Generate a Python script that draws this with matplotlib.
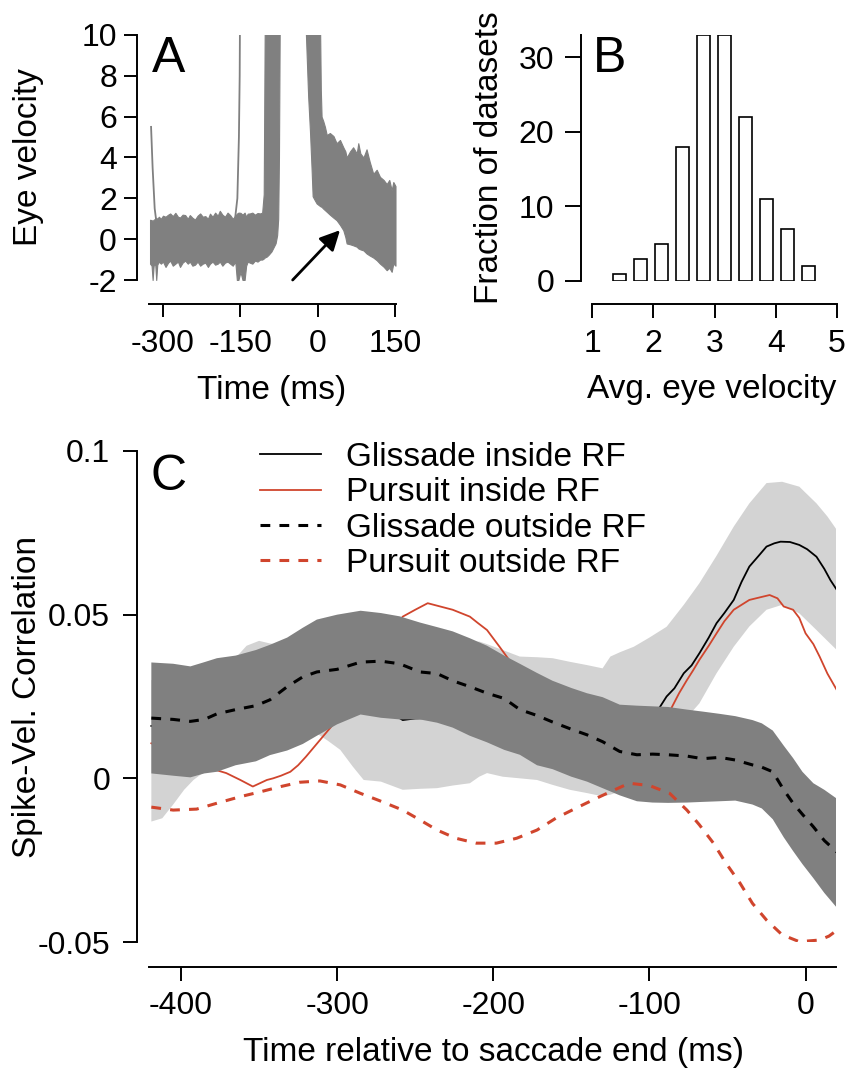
import matplotlib
matplotlib.use('Agg')
import matplotlib.pyplot as plt

plt.rcParams['font.family'] = ['Liberation Sans', 'DejaVu Sans']
plt.rcParams['axes.unicode_minus'] = False

# ---------------- Panel A data (envelope of eye-velocity traces) ----------------
t_pre = [-325, -322, -320, -318, -315, -313, -311, -308, -304, -300,
         -295, -290, -286, -281, -276, -271, -267, -262, -257, -252,
         -248, -243, -238, -233, -228, -223, -218, -213, -209, -204,
         -199, -194, -190, -185, -180, -175, -170, -165, -160, -157,
         -154, -150, -146, -142, -139, -136, -132, -127, -122, -117,
         -112, -108, -105, -103, -99, -95, -90, -86, -82, -79,
         -77, -75.5, -74]
hi_pre = [0.95, 0.93, 0.90, 0.95, 1.00, 1.05, 0.99, 1.10, 1.00, 1.15,
          1.10, 1.20, 1.26, 1.13, 1.29, 1.10, 1.06, 1.20, 1.18, 1.00,
          1.18, 1.05, 0.96, 1.15, 1.26, 1.10, 1.13, 1.00, 1.25, 1.10,
          1.30, 1.15, 1.39, 1.20, 1.10, 1.30, 1.18, 1.00, 1.15, 1.25,
          1.30, 1.29, 1.20, 1.30, 1.10, 1.25, 1.26, 1.30, 1.20, 1.28,
          1.26, 1.30, 2.20, 10.5, 10.5, 10.5, 10.5, 10.5, 10.5, 10.5,
          10.5, 10.5, 10.5]
lo_pre = [-1.20, -1.30, -2.00, -1.30, -1.20, -2.00, -1.25, -1.10, -1.20, -1.10,
          -1.36, -1.15, -1.05, -1.30, -1.20, -1.10, -1.36, -1.15, -1.05, -1.20,
          -1.10, -1.30, -1.25, -1.10, -1.30, -1.20, -1.15, -1.36, -1.20, -1.10,
          -1.25, -1.20, -1.10, -1.30, -1.15, -1.10, -1.20, -1.30, -1.10, -2.00,
          -2.00, -1.60, -2.00, -2.00, -1.30, -1.10, -1.15, -1.20, -1.05, -1.10,
          -1.00, -1.00, -0.95, -0.90, -0.85, -0.75, -0.60, -0.40, -0.20, 0.20,
          1.00, 4.00, 10.5]

t_post = [-24, -19, -15.5, -12.3, -10.3, -6, -2.6, 4, 5.5, 7,
          10, 13.5, 17, 23, 30, 36, 42.6, 49, 53, 55.5,
          62, 68, 75, 78, 82, 88, 94, 100, 107, 113.6,
          120, 127, 133, 138, 142.6, 145.8, 150]
lo_post = [10.5, 7.0, 5.3, 3.4, 2.1, 1.9, 1.75, 1.62, 1.6, 1.58,
           1.5, 1.42, 1.34, 1.2, 1.05, 0.93, 0.7, 0.44, 0.1, -0.21,
           -0.25, -0.3, -0.37, -0.45, -0.5, -0.55, -0.7, -0.8, -0.9, -1.03,
           -1.2, -1.35, -1.52, -1.4, -1.6, -1.19, -1.3]
hi_post = [10.5, 10.5, 10.5, 10.5, 10.5, 10.5, 10.5, 10.5, 7.3, 6.0,
           5.8, 5.5, 5.1, 5.2, 5.05, 4.7, 4.86, 4.5, 4.3, 4.0,
           4.3, 4.5, 4.2, 4.7, 4.2, 4.0, 4.4, 3.8, 3.2, 3.4,
           3.05, 2.9, 2.7, 2.9, 2.4, 2.8, 2.6]

t_trace1 = [-323, -320, -316, -313]
v_trace1 = [5.5, 3.5, 1.5, 0.9]
t_trace2 = [-160, -156, -153, -151.5, -151]
v_trace2 = [1.1, 2.0, 5.0, 8.0, 10.5]

arrow_tail = (-49, -2.0)
arrow_head = (42.6, 0.44)

# ---------------- Panel B data ----------------
bin_centers = [1.444, 1.787, 2.130, 2.473, 2.816, 3.159, 3.502, 3.845, 4.188, 4.532]
bin_counts = [1, 3, 5, 18, 33, 33, 22, 11, 7, 2]
bin_width = 0.215

# ---------------- Panel C data ----------------
t_gout = [-419, -405, -394, -385, -377, -365, -352, -343, -332, -322,
          -313, -300, -285, -272, -260, -247, -236, -226, -215, -204,
          -193, -183, -172, -162, -150, -140, -130, -119, -108, -98,
          -88, -76, -66, -55, -45, -34, -28, -21, -14, -8,
          -2, 5, 12, 20]
gout_hi = [0.0354, 0.0350, 0.0342, 0.0355, 0.0367, 0.0375, 0.0392, 0.0408, 0.0430, 0.0460,
           0.0485, 0.0500, 0.0512, 0.0505, 0.0495, 0.0476, 0.0462, 0.0449, 0.0428, 0.0405,
           0.0375, 0.0350, 0.0322, 0.0298, 0.0276, 0.0260, 0.0248, 0.0225, 0.0222, 0.0220,
           0.0218, 0.0210, 0.0204, 0.0197, 0.0190, 0.0178, 0.0168, 0.0146, 0.0100, 0.0062,
           0.0020, -0.0015, -0.0035, -0.0062]
gout_lo = [0.0015, 0.0008, 0.0003, 0.0015, 0.0020, 0.0040, 0.0052, 0.0071, 0.0085, 0.0105,
           0.0130, 0.0165, 0.0195, 0.0185, 0.0180, 0.0180, 0.0170, 0.0155, 0.0130, 0.0110,
           0.0087, 0.0072, 0.0040, 0.0028, 0.0005, -0.0010, -0.0030, -0.0052, -0.0070, -0.0074,
           -0.0075, -0.0074, -0.0072, -0.0070, -0.0068, -0.0080, -0.0092, -0.0125, -0.0180, -0.0222,
           -0.0262, -0.0305, -0.0350, -0.0395]
gout_mean = [0.0184, 0.0180, 0.0174, 0.0180, 0.0197, 0.0210, 0.0222, 0.0240, 0.0280, 0.0310,
             0.0325, 0.0333, 0.0355, 0.0358, 0.0350, 0.0325, 0.0320, 0.0298, 0.0280, 0.0260,
             0.0244, 0.0210, 0.0192, 0.0172, 0.0150, 0.0133, 0.0112, 0.0082, 0.0072, 0.0074,
             0.0072, 0.0068, 0.0060, 0.0064, 0.0056, 0.0041, 0.0034, 0.0020, -0.0035, -0.0076,
             -0.0110, -0.0148, -0.0190, -0.0225]

t_gin_band = [-419, -412, -405, -398, -392, -385, -377, -365, -358, -350,
              -343, -332, -322, -315, -306, -298, -290, -283, -272, -258,
              -247, -236, -226, -215, -209, -204, -194, -183, -172, -162,
              -151, -140, -130, -125, -119, -110, -100, -89, -78, -68,
              -57, -46, -36, -25, -15, -4, 7, 14, 20]
gin_lo = [-0.0132, -0.0122, -0.0080, -0.0035, -0.0005, 0.0020, 0.0040, 0.0060, 0.0070, 0.0085,
          0.0095, 0.0110, 0.0125, 0.0143, 0.0115, 0.0087, 0.0036, -0.0005, -0.0010, -0.0035,
          -0.0032, -0.0030, -0.0022, -0.0015, 0.0005, 0.0016, 0.0005, 0.0000, -0.0005, -0.0020,
          -0.0035, -0.0045, -0.0055, -0.0050, -0.0040, -0.0005, 0.0050, 0.0110, 0.0175, 0.0229,
          0.0321, 0.0402, 0.0464, 0.0515, 0.0530, 0.0504, 0.0453, 0.0420, 0.0392]
gin_hi = [0.0300, 0.0305, 0.0310, 0.0318, 0.0325, 0.0340, 0.0350, 0.0368, 0.0405, 0.0420,
          0.0412, 0.0405, 0.0410, 0.0415, 0.0425, 0.0435, 0.0440, 0.0445, 0.0445, 0.0440,
          0.0430, 0.0425, 0.0420, 0.0415, 0.0418, 0.0410, 0.0392, 0.0372, 0.0370, 0.0367,
          0.0356, 0.0346, 0.0336, 0.0372, 0.0385, 0.0402, 0.0430, 0.0463, 0.0530, 0.0596,
          0.0680, 0.0769, 0.0840, 0.0902, 0.0906, 0.0891, 0.0840, 0.0800, 0.0759]

t_gin = [-419, -400, -380, -360, -340, -320, -300, -285, -279, -272,
         -268, -262, -258, -250, -243, -230, -215, -200, -180, -160,
         -140, -120, -105, -95, -89, -84, -78, -73, -68, -62,
         -57, -52, -46, -41, -36, -30, -25, -20, -16, -10,
         -4, 1, 7, 12, 16, 20]
gin_mean = [0.016, 0.016, 0.018, 0.020, 0.022, 0.024, 0.022, 0.0205, 0.0199, 0.0202,
            0.0204, 0.0190, 0.0178, 0.0183, 0.0184, 0.019, 0.018, 0.017, 0.016, 0.015,
            0.0145, 0.015, 0.017, 0.0205, 0.0250, 0.0275, 0.0321, 0.0345, 0.0382, 0.0430,
            0.0474, 0.0505, 0.0545, 0.0600, 0.0647, 0.0680, 0.0708, 0.0718, 0.0723, 0.0722,
            0.0713, 0.0700, 0.0677, 0.0640, 0.0605, 0.0576]

t_pin = [-419, -405, -392, -384, -378, -371, -362, -354, -345, -341,
         -336, -330, -325, -320, -311, -302, -290, -280, -270, -258,
         -250, -242, -234, -226, -215, -210, -204, -196, -185, -170,
         -150, -130, -110, -95, -86, -81, -76, -72, -68, -62,
         -57, -52, -46, -41, -36, -30, -23, -18, -14, -8,
         -4, 0, 5, 9, 14, 20]
pin_mean = [0.0107, 0.008, 0.005, 0.0035, 0.0026, 0.0016, -0.0005, -0.0025, -0.0005, 0.0000,
            0.0008, 0.0020, 0.0040, 0.0066, 0.0117, 0.0168, 0.025, 0.033, 0.041, 0.0494,
            0.0515, 0.0535, 0.0525, 0.0515, 0.0494, 0.0475, 0.0453, 0.0402, 0.033, 0.022,
            0.012, 0.008, 0.010, 0.015, 0.0214, 0.026, 0.0300, 0.0330, 0.0362, 0.0405,
            0.0443, 0.0480, 0.0515, 0.0530, 0.0545, 0.0552, 0.0560, 0.0550, 0.0525, 0.0515,
            0.0490, 0.0443, 0.0410, 0.0372, 0.0320, 0.0270]

t_pout = [-419, -405, -390, -377, -362, -349, -336, -324, -311, -298,
          -285, -273, -258, -247, -236, -224, -211, -198, -185, -172,
          -160, -147, -134, -125, -113, -100, -87, -76, -68, -59,
          -51, -42, -34, -25, -15, -4, 9, 15, 19]
pout_mean = [-0.0088, -0.0097, -0.0094, -0.0076, -0.0056, -0.0041, -0.0025, -0.0012, -0.0008, -0.0020,
             -0.0046, -0.0068, -0.0097, -0.0127, -0.0158, -0.0183, -0.0198, -0.0198, -0.0183, -0.0158,
             -0.0122, -0.0091, -0.0061, -0.0041, -0.0015, -0.0022, -0.0046, -0.0097, -0.0142, -0.0198,
             -0.0259, -0.0320, -0.0382, -0.0433, -0.0478, -0.0499, -0.0494, -0.0482, -0.0468]

legend_labels = ['Glissade inside RF', 'Pursuit inside RF',
                 'Glissade outside RF', 'Pursuit outside RF']

# ---------------- styling ----------------
GRAY = '#808080'
LIGHT = '#d3d3d3'
RED = '#d0452d'
PX = 0.72  # points per pixel at 100 dpi

fig = plt.figure(figsize=(8.47, 10.70), dpi=100)
W, H = 847.0, 1070.0
axA = fig.add_axes([149 / W, 1 - 280 / H, 247 / W, 245 / H])
axB = fig.add_axes([592 / W, 1 - 281 / H, 245 / W, 246 / H])
axC = fig.add_axes([149 / W, 1 - 942 / H, 687 / W, 491 / H])


def style(ax, left_out, bottom_out, ylen, xlen, ypad, xpad):
    for s in ['top', 'right']:
        ax.spines[s].set_visible(False)
    ax.spines['left'].set_position(('outward', left_out * PX))
    ax.spines['bottom'].set_position(('outward', bottom_out * PX))
    for s in ['left', 'bottom']:
        ax.spines[s].set_linewidth(1.4)
    ax.tick_params(axis='y', length=ylen * PX, width=1.4, pad=ypad * PX, labelsize=23)
    ax.tick_params(axis='x', length=xlen * PX, width=1.4, pad=xpad * PX, labelsize=23)
    ax.patch.set_visible(False)


# Panel A
axA.fill_between(t_pre, lo_pre, hi_pre, facecolor=GRAY, edgecolor=GRAY, linewidth=0.8)
axA.fill_between(t_post, lo_post, hi_post, facecolor=GRAY, edgecolor=GRAY, linewidth=0.8)
axA.plot(t_trace1, v_trace1, color=GRAY, lw=1.3)
axA.plot(t_trace2, v_trace2, color=GRAY, lw=1.3)
axA.annotate('', xy=arrow_head, xytext=arrow_tail,
             arrowprops=dict(arrowstyle='-|>', color='black', lw=2.0, mutation_scale=30,
                             shrinkA=0, shrinkB=0),
             annotation_clip=False)
axA.set_xlim(-327, 151)
axA.set_ylim(-2, 10)
axA.set_xticks([-300, -150, 0, 150])
axA.set_yticks([-2, 0, 2, 4, 6, 8, 10])
style(axA, 12, 24, 13, 13, 7, 12)

# Panel B
axB.bar(bin_centers, bin_counts, width=bin_width, facecolor='white',
        edgecolor='black', linewidth=1.2)
axB.set_xlim(1, 5)
axB.set_ylim(0, 33)
axB.set_xticks([1, 2, 3, 4, 5])
axB.set_yticks([0, 10, 20, 30])
style(axB, 11, 23, 16, 14, 11, 11)

# Panel C
axC.fill_between(t_gin_band, gin_lo, gin_hi, facecolor=LIGHT, edgecolor='none', zorder=1)
hg_in, = axC.plot(t_gin, gin_mean, color='black', lw=1.3, zorder=2)
hp_in, = axC.plot(t_pin, pin_mean, color=RED, lw=1.3, zorder=3)
axC.fill_between(t_gout, gout_lo, gout_hi, facecolor=GRAY, edgecolor='none', zorder=4)
hp_out, = axC.plot(t_pout, pout_mean, color=RED, lw=2.2, linestyle=(0, (3.2, 3.0)), zorder=5)
hg_out, = axC.plot(t_gout, gout_mean, color='black', lw=2.2, linestyle=(0, (3.2, 3.0)), zorder=6)
axC.set_xlim(-420.5, 19.5)
axC.set_ylim(-0.05, 0.1)
axC.set_xticks([-400, -300, -200, -100, 0])
axC.set_yticks([-0.05, 0, 0.05, 0.1])
axC.set_yticklabels(['-0.05', '0', '0.05', '0.1'])
style(axC, 12, 25, 14, 14, 13, 10.5)

axC.legend([hg_in, hp_in, hg_out, hp_out], legend_labels, loc='upper left',
           bbox_to_anchor=(260 / W, 1 - 442 / H), bbox_transform=fig.transFigure,
           frameon=False, fontsize=24, handlelength=1.83, handletextpad=0.75,
           labelspacing=0.13, borderpad=0, borderaxespad=0)

# Labels
fig.text(29 / W, 1 - 157 / H, 'Eye velocity', rotation=90, ha='center', va='center', fontsize=24)
fig.text(272 / W, 1 - 391 / H, 'Time (ms)', ha='center', va='center', fontsize=24)
fig.text(489 / W, 1 - 158 / H, 'Fraction of datasets', rotation=90, ha='center', va='center', fontsize=24)
fig.text(712 / W, 1 - 390 / H, 'Avg. eye velocity', ha='center', va='center', fontsize=24)
fig.text(28 / W, 1 - 697 / H, 'Spike-Vel. Correlation', rotation=90, ha='center', va='center', fontsize=24)
fig.text(493 / W, 1 - 1052 / H, 'Time relative to saccade end (ms)', ha='center', va='center', fontsize=24)

fig.text(152 / W, 1 - 72 / H, 'A', fontsize=36, ha='left', va='baseline')
fig.text(593 / W, 1 - 72 / H, 'B', fontsize=36, ha='left', va='baseline')
fig.text(150 / W, 1 - 490 / H, 'C', fontsize=36, ha='left', va='baseline')

fig.savefig('out.png', dpi=100)
